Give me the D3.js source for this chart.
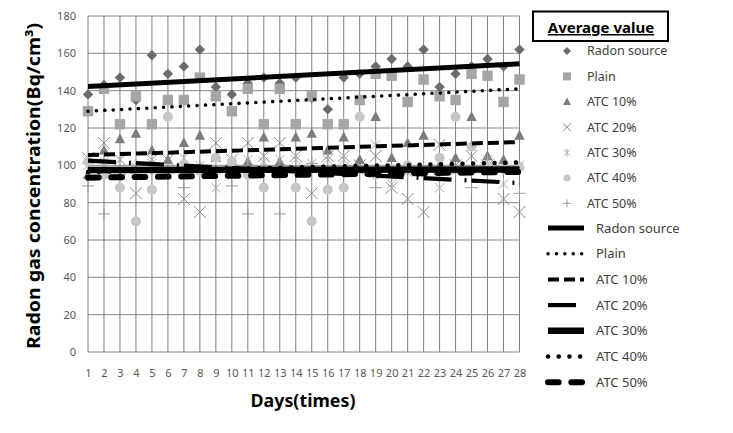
<!DOCTYPE html>
<html><head><meta charset="utf-8">
<script src="https://cdn.jsdelivr.net/npm/d3@7/dist/d3.min.js"></script>
<style>body{margin:0;background:#fff}svg{display:block}text{font-family:"Noto Sans",sans-serif}</style>
</head><body><svg id="c" width="733" height="433"></svg>
<script>
// ---- data ----
const days = [1,2,3,4,5,6,7,8,9,10,11,12,13,14,15,16,17,18,19,20,21,22,23,24,25,26,27,28];
const yTicks = [0,20,40,60,80,100,120,140,160,180];
const seriesNames = ["Radon source","Plain","ATC 10%","ATC 20%","ATC 30%","ATC 40%","ATC 50%"];
const radon = [138,143,147,135,159,149,153,162,142,138,144,147,144,147,136,130,147,149,153,157,153,162,142,149,153,157,153,162];
const plain = [129,141,122,137,122,135,135,147,137,129,141,122,141,122,137,122,122,135,149,148,134,146,137,135,149,148,134,146];
const atc10 = [95,108,114,117,108,103,112,116,104,101,102,115,102,115,117,108,115,103,126,104,112,116,100,104,126,105,103,116];
const atc20 = [104,112,103,85,103,103,82,75,112,103,112,105,112,105,85,105,105,100,105,88,82,75,111,100,105,100,82,75];
const atc30 = [100,102,103,99,101,98,104,100,88,100,103,102,103,103,101,103,103,97,111,90,96,98,88,97,98,103,90,100];
const atc40 = [102,95,88,70,87,126,100,97,104,102,95,88,97,88,70,87,88,126,95,98,100,96,104,126,110,99,98,99];
const atc50 = [89,74,95,96,98,96,88,99,96,89,74,98,74,98,101,94,98,96,88,97,96,97,95,96,88,95,98,85];
// trend line values at day 1 and day 28
const trendStart = [142.2,129,105.5,102.5,97.5,96.5,93.4];
const trendEnd   = [154.4,141,112.5,90.5,97.8,101.5,96.5];

// ---- styles ----
const values = [radon,plain,atc10,atc20,atc30,atc40,atc50];
const markerStyle = [
  {shape:"diamond", fill:"#6b6b6b"},
  {shape:"square", fill:"#a5a5a5"},
  {shape:"triangle", fill:"#7d7d7d"},
  {shape:"x", stroke:"#8a8a8a"},
  {shape:"star", stroke:"#a9a9a9"},
  {shape:"circle", fill:"#c6c6c6"},
  {shape:"plus", stroke:"#9a9a9a"}
];
const lineStyle = [
  {w:5, dash:null, cap:"butt"},
  {w:3.5, dash:"0.1,8.3", cap:"round"},
  {w:4, dash:"11,5", cap:"butt"},
  {w:4.2, dash:"28,13,2,5", cap:"butt"},
  {w:6.5, dash:null, cap:"butt"},
  {w:4.5, dash:"0.1,10.6", cap:"round"},
  {w:6, dash:"10.7,12.6", cap:"round"}
];

const svg = d3.select("#c");
const x = d3.scalePoint().domain(days).range([88,519.5]);
const y = d3.scaleLinear().domain([0,180]).range([352,16]);

function markerPath(shape, r){
  switch(shape){
    case "diamond": return `M0,${-r}L${r},0L0,${r}L${-r},0Z`;
    case "square": return `M${-r},${-r}H${r}V${r}H${-r}Z`;
    case "triangle": return `M0,${-r*1.1}L${r},${r*0.8}L${-r},${r*0.8}Z`;
    case "x": return `M${-r},${-r}L${r},${r}M${-r},${r}L${r},${-r}`;
    case "plus": return `M${-r},0H${r}M0,${-r}V${r}`;
    case "star": return `M${-r*0.75},${-r*0.75}L${r*0.75},${r*0.75}M${-r*0.75},${r*0.75}L${r*0.75},${-r*0.75}M0,${-r}V${r}`;
    case "circle": return d3.symbol(d3.symbolCircle, Math.PI*r*r)();
  }
}

// grid
const g = svg.append("g");
g.selectAll("line.h").data(yTicks).join("line")
  .attr("x1",x(days[0])).attr("x2",x(days[days.length-1]))
  .attr("y1",d=>y(d)).attr("y2",d=>y(d)).attr("stroke","#8a8a8a").attr("stroke-width",1);
g.selectAll("line.v").data(days).join("line")
  .attr("x1",d=>x(d)).attr("x2",d=>x(d))
  .attr("y1",y(0)).attr("y2",y(180)).attr("stroke","#7f7f7f").attr("stroke-width",1);

// axes
const ya = svg.append("g").attr("transform",`translate(${x(days[0])},0)`)
  .call(d3.axisLeft(y).tickValues(yTicks).tickSize(0).tickPadding(12));
ya.select(".domain").remove();
ya.selectAll("text").attr("font-size",11).attr("fill","#595959").style("font-family","'Noto Sans',sans-serif");
const xa = svg.append("g").attr("transform",`translate(0,${y(0)})`)
  .call(d3.axisBottom(x).tickSize(0).tickPadding(17));
xa.select(".domain").remove();
xa.selectAll("text").attr("font-size",11).attr("fill","#595959").style("font-family","'Noto Sans',sans-serif");

// markers
values.forEach((vals,i)=>{
  const st = markerStyle[i];
  const r = st.shape==="x"||st.shape==="star"||st.shape==="plus" ? 6 : (st.shape==="circle"?5:5.2);
  svg.append("g").selectAll("path").data(vals).join("path")
    .attr("transform",(d,j)=>`translate(${x(days[j])},${y(d)})`)
    .attr("d",markerPath(st.shape,r))
    .attr("fill",st.fill||"none")
    .attr("stroke",st.stroke||"none").attr("stroke-width",1);
});

// trend lines
const line = d3.line().x(d=>x(d[0])).y(d=>y(d[1]));
seriesNames.forEach((n,i)=>{
  const st = lineStyle[i];
  svg.append("path")
    .attr("d",line([[days[0],trendStart[i]],[days[days.length-1],trendEnd[i]]]))
    .attr("fill","none").attr("stroke","#000").attr("stroke-width",st.w)
    .attr("stroke-dasharray",st.dash).attr("stroke-linecap",st.cap);
});

// axis titles
svg.append("text").attr("transform","translate(40,186) rotate(-90)")
  .attr("text-anchor","middle").attr("font-size",18).attr("font-weight","bold").attr("fill","#000")
  .attr("textLength",326).attr("lengthAdjust","spacingAndGlyphs")
  .text("Radon gas concentration(Bq/cm³)");
svg.append("text").attr("x",303).attr("y",407).attr("text-anchor","middle")
  .attr("font-size",18).attr("font-weight","bold").attr("fill","#000")
  .attr("textLength",105).attr("lengthAdjust","spacingAndGlyphs").text("Days(times)");

// legend
const lg = svg.append("g");
lg.append("rect").attr("x",533).attr("y",11.5).attr("width",135).attr("height",29.5)
  .attr("fill","#fff").attr("stroke","#000").attr("stroke-width",2);
lg.append("text").attr("x",601).attr("y",33).attr("text-anchor","middle")
  .attr("font-size",15).attr("font-weight","bold").attr("text-decoration","underline").text("Average value");
seriesNames.forEach((n,i)=>{
  const cy = 51 + i*25.4;
  const st = markerStyle[i];
  const r = st.shape==="circle"?3.6:4;
  lg.append("path").attr("transform",`translate(567,${cy})`).attr("d",markerPath(st.shape,r))
    .attr("fill",st.fill||"none").attr("stroke",st.stroke||"none").attr("stroke-width",1);
  lg.append("text").attr("x",587).attr("y",cy).attr("dy","0.35em").attr("font-size",12.5).attr("fill","#404040").text(n);
});
seriesNames.forEach((n,i)=>{
  const cy = 228 + i*25.7;
  const st = lineStyle[i];
  lg.append("line").attr("x1",548).attr("x2",584).attr("y1",cy).attr("y2",cy)
    .attr("stroke","#000").attr("stroke-width",st.w)
    .attr("stroke-dasharray",st.dash).attr("stroke-linecap",st.cap);
  lg.append("text").attr("x",596).attr("y",cy).attr("dy","0.35em").attr("font-size",13).attr("fill","#404040").text(n);
});
</script></body></html>
